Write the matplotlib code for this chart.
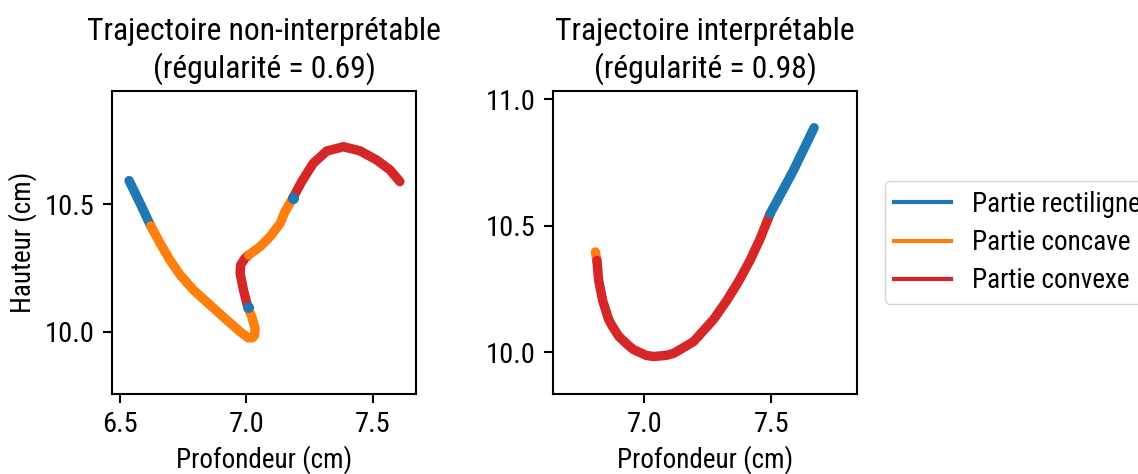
import matplotlib
matplotlib.use("Agg")
import matplotlib.pyplot as plt
from matplotlib.lines import Line2D

plt.rcParams['font.family'] = ['Roboto Condensed', 'Roboto', 'DejaVu Sans']

BLUE, ORANGE, RED = "#1f77b4", "#ff7f0e", "#d62728"

# ---- Left trajectory (non-interpretable), segments
L_seg1_x = [6.5375, 6.581, 6.623]
L_seg1_y = [10.593, 10.504, 10.415]
L_seg2_x = [6.623, 6.660, 6.699, 6.739, 6.791, 6.857, 6.923, 6.976, 7.008, 7.024, 7.033, 7.035, 7.022, 7.006]
L_seg2_y = [10.415, 10.347, 10.281, 10.223, 10.164, 10.105, 10.046, 10.000, 9.976, 9.976, 9.985, 10.013, 10.059, 10.098]
L_seg3_x = [7.006, 6.989, 6.976, 6.978, 6.995, 7.010]
L_seg3_y = [10.098, 10.164, 10.229, 10.262, 10.288, 10.301]
L_seg4_x = [7.010, 7.055, 7.094, 7.134, 7.153, 7.184]
L_seg4_y = [10.301, 10.334, 10.373, 10.425, 10.471, 10.524]
L_seg5_x = [7.184, 7.219, 7.265, 7.318, 7.384, 7.449, 7.515, 7.568, 7.607]
L_seg5_y = [10.524, 10.589, 10.661, 10.709, 10.726, 10.710, 10.674, 10.635, 10.589]
L_dots_x = [7.006, 7.184]
L_dots_y = [10.098, 10.524]

# ---- Right trajectory (interpretable), segments
R_seg1_x = [6.807, 6.813]
R_seg1_y = [10.396, 10.363]
R_seg2_x = [6.813, 6.820, 6.836, 6.859, 6.873, 6.899, 6.937, 6.958, 7.009, 7.037, 7.088,
            7.116, 7.174, 7.195, 7.273, 7.326, 7.371, 7.417, 7.457, 7.496]
R_seg2_y = [10.363, 10.284, 10.203, 10.130, 10.104, 10.063, 10.027, 10.010, 9.987, 9.983, 9.988,
            9.996, 10.030, 10.043, 10.130, 10.206, 10.279, 10.364, 10.450, 10.548]
R_seg3_x = [7.496, 7.588, 7.669]
R_seg3_y = [10.548, 10.719, 10.887]

titles = ["Trajectoire non-interprétable\n(régularité = 0.69)",
          "Trajectoire interprétable\n(régularité = 0.98)"]
xlabel = "Profondeur (cm)"
ylabel = "Hauteur (cm)"
legend_labels = ["Partie rectiligne", "Partie concave", "Partie convexe"]

TITLE_FS = 22.8
LABEL_FS = 19.5
TICK_FS = 20.5
LEG_FS = 19.5

W, H = 1138, 474
fig = plt.figure(figsize=(W / 100, H / 100), dpi=100)

def px_axes(x0, y0, x1, y1):
    return fig.add_axes([x0 / W, 1 - y1 / H, (x1 - x0) / W, (y1 - y0) / H])

ax1 = px_axes(112, 91, 416, 394)
ax2 = px_axes(553, 91, 857, 394)

LW = 6.8
kw = dict(linewidth=LW, solid_capstyle='round', solid_joinstyle='round')

ax1.plot(L_seg1_x, L_seg1_y, color=BLUE, **kw)
ax1.plot(L_seg2_x, L_seg2_y, color=ORANGE, **kw)
ax1.plot(L_seg3_x, L_seg3_y, color=RED, **kw)
ax1.plot(L_seg4_x, L_seg4_y, color=ORANGE, **kw)
ax1.plot(L_seg5_x, L_seg5_y, color=RED, **kw)
ax1.plot(L_dots_x, L_dots_y, linestyle='none', marker='o', markersize=7.9,
         color=BLUE, markeredgewidth=0)

ax2.plot(R_seg1_x, R_seg1_y, color=ORANGE, **kw)
ax2.plot(R_seg2_x, R_seg2_y, color=RED, **kw)
ax2.plot(R_seg3_x, R_seg3_y, color=BLUE, **kw)

ax1.set_xlim(6.470, 7.6706)
ax1.set_ylim(9.7555, 10.9447)
ax1.set_xticks([6.5, 7.0, 7.5])
ax1.set_yticks([10.0, 10.5])
ax2.set_xlim(6.640, 7.838)
ax2.set_ylim(9.835, 11.032)
ax2.set_xticks([7.0, 7.5])
ax2.set_yticks([10.0, 10.5, 11.0])

for ax, t in zip([ax1, ax2], titles):
    ax.set_title(t, fontsize=TITLE_FS, pad=9.5, linespacing=1.25)
    ax.set_xlabel(xlabel, fontsize=LABEL_FS)
    ax.xaxis.set_label_coords(0.5, -0.168)
    for s in ax.spines.values():
        s.set_linewidth(1.5)
    ax.tick_params(width=1.5, length=6.5, labelsize=TICK_FS, pad=6)
    ax.set_xticklabels([f"{v:.1f}" for v in ax.get_xticks()])
    ax.set_yticklabels([f"{v:.1f}" for v in ax.get_yticks()])
ax1.set_ylabel(ylabel, fontsize=LABEL_FS)
ax1.yaxis.set_label_coords(-0.247, 0.5)

handles = [Line2D([], [], color=c, linewidth=3.0) for c in (BLUE, ORANGE, RED)]
fig.legend(handles, legend_labels, loc='center left',
           bbox_to_anchor=(885 / W, 1 - 242.5 / H), borderaxespad=0,
           fontsize=LEG_FS, handlelength=2.1, handletextpad=0.78, labelspacing=0.42,
           borderpad=0.35, frameon=True, fancybox=True, framealpha=0.8, edgecolor='0.8')

fig.savefig("out.png", dpi=100)
